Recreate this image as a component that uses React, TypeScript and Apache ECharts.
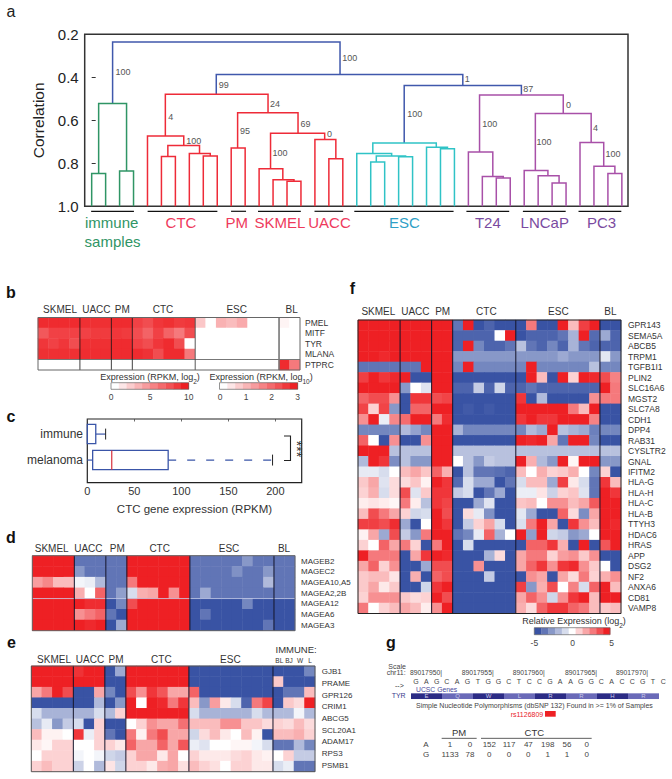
import React, { useEffect, useRef } from "react";
import * as echarts from "echarts";

const FONT = '"Liberation Sans", Arial, sans-serif';

// ---------- panel a ----------
const corrTicks = [0.2, 1.0];
const leafCount = 39;
// x1, bottom1, x2, bottom2, height, colour index
const merges: number[][] = [
  [1.5, 0.522, 17.8, 0.387, 0.236, 0],
  [8.93, 0.479, 26.6, 0.438, 0.387, 0],
  [22.4, 0.706, 30.8, 0.482, 0.438, 0],
  [0.5, 0.848, 2.5, 0.836, 0.522, 1],
  [0, 1, 1, 1, 0.848, 1],
  [2, 1, 3, 1, 0.836, 1],
  [5.28, 0.673, 12.64, 0.565, 0.479, 2],
  [4, 1, 6.6, 0.717, 0.673, 2],
  [5.46, 0.768, 7.73, 0.754, 0.717, 2],
  [5, 1, 6, 1, 0.768, 2],
  [7, 1, 8.5, 0.766, 0.754, 2],
  [8, 1, 9, 1, 0.766, 2],
  [10.46, 0.729, 14.79, 0.66, 0.565, 2],
  [10, 1, 11, 1, 0.729, 2],
  [12.82, 0.825, 16.7, 0.689, 0.66, 2],
  [12, 1, 13.7, 0.876, 0.825, 2],
  [13, 1, 14.5, 0.884, 0.876, 2],
  [14, 1, 15, 1, 0.884, 2],
  [16, 1, 17.5, 0.779, 0.689, 2],
  [17, 1, 18, 1, 0.779, 2],
  [20.15, 0.754, 24.7, 0.725, 0.706, 3],
  [19, 1, 21.5, 0.766, 0.754, 3],
  [20.4, 0.794, 22.5, 0.769, 0.766, 3],
  [20, 1, 21, 1, 0.794, 3],
  [22, 1, 23, 1, 0.769, 3],
  [24, 1, 25.5, 0.732, 0.725, 3],
  [25, 1, 26, 1, 0.732, 3],
  [27.8, 0.748, 33.8, 0.568, 0.482, 4],
  [27, 1, 28.75, 0.861, 0.748, 4],
  [28, 1, 29.5, 0.868, 0.861, 4],
  [29, 1, 30, 1, 0.868, 4],
  [31.8, 0.834, 35.8, 0.703, 0.568, 4],
  [31, 1, 32.7, 0.858, 0.834, 4],
  [32, 1, 33.5, 0.892, 0.858, 4],
  [33, 1, 34, 1, 0.892, 4],
  [35, 1, 36.7, 0.814, 0.703, 4],
  [36, 1, 37.5, 0.847, 0.814, 4],
  [37, 1, 38, 1, 0.847, 4],
];
const treeColors = ["#4058ac", "#2f9565", "#ee2b38", "#2fc3c6", "#a850a8"];
const supportLabels: [string, number, number][] = [
  ["100", 270, 215], ["100", 800, 175], ["99", 511, 255], ["24", 631, 311], ["4", 393, 351],
  ["100", 435, 423], ["95", 561, 393], ["69", 702, 372], ["0", 764, 401], ["100", 637, 460],
  ["100", 952, 343], ["1", 1086, 238], ["87", 1223, 268], ["100", 1127, 371], ["0", 1323, 315],
  ["100", 1254, 426], ["4", 1386, 383], ["100", 1415, 463],
];
const treeBars = [[213, 313], [345, 508], [540, 575], [603, 703], [735, 802], [828, 1060], [1090, 1190], [1222, 1322], [1352, 1452]];
const treeGroupLabels: [string, number, number, string][] = [
  ["immune", 261, 668, "#2f9565"], ["samples", 263, 725, "#2f9565"],
  ["CTC", 423, 668, "#ee3a5c"], ["PM", 553, 668, "#ee3a5c"], ["SKMEL", 654, 668, "#ee3a5c"], ["UACC", 770, 668, "#ee3a5c"],
  ["ESC", 945, 668, "#2f9fc6"], ["T24", 1140, 668, "#7a4aa0"], ["LNCaP", 1273, 668, "#7a4aa0"], ["PC3", 1406, 668, "#7a4aa0"],
];

// ---------- panel b ----------
const bGenes = ["PMEL", "MITF", "TYR", "MLANA", "PTPRC"];
const bValues: number[][] = [
  [9.5,9.5,9.5,9.5, 9.3,9.3,9.3, 9.5,9.5, 8.5,8,9,9.3,8.8,9, 2.5,0,3.5,3,3.8,0,0,0, 0.5,0],
  [7.5,8.5,8.5,8.5, 8.5,8.8,8.8, 9,8.8, 8,7,8.5,7,6,8, 0,0,0,0,0,0,0,0, 0,0],
  [9,8.5,9,8, 9.3,9.3,9.3, 9.5,9.5, 8.5,8,9,9.5,8,0, 0,0,0,0,0,0,0,0, 0,0],
  [9.3,9.3,9.3,9.3, 9.4,9.4,9.4, 9.5,9.5, 9.5,9.2,8,9.5,9.5,6, 0,0,0,0,0,0,0,0, 0,0],
  [0,0,0,0, 0,0,0, 0,0, 0,0,0,0,0,0, 0,0,0,0,0,0,0,0, 9.5,6],
];

// ---------- panel c ----------
const boxNames = ["immune", "melanoma"];
// row, min, q1, median, q3, max
const boxStats = [
  [1, 0, 0, 0.4, 9, 19.5],
  [2, 0, 5.7, 26, 86, 197],
];

// ---------- panel d ----------
const dGenes = ["MAGEB2", "MAGEC2", "MAGEA10,A5", "MAGEA2,2B", "MAGEA12", "MAGEA6", "MAGEA3"];
const dValues: number[][] = [
  [5,5,5,5, -4,-4,-4, -4,-4, 5,5,5,5,5,5, -4,-4,-4,-4,-4,-3,-4,-4, -4,-4],
  [5,5,5,5, -3,-4,-4, -4,-4, 5,5,5,5,5,5, -4,-4,-4,-4,-3.2,-4,-4,-3, -4,-4],
  [2.2,2.7,1.5,1.5, -0.3,-0.5,-2, -4,-4, 3,5,5,5,5,5, -4,-4,-4,-4,-4,-4,-4,-2, -4,-4],
  [5,5,5,5, 1.8,0,3.5, -4,-2.8, -1,1.8,2,5,2.5,5, -4,-2.5,-4,-4,-4,-4,-4,-4, -4,-4],
  [5,5,5,5, 5,4.7,4.7, -5,-3.5, 4,5,5,5,5,5, -5,-5,-5,-5,-5,-3.5,-5,-5, -5,-5],
  [5,5,5,5, 2.5,3,3.5, -4,-5, 5,5,5,5,5,5, -5,-4,-5,-5,-5,-5,-5,-5, -5,-5],
  [5,5,5,5, 5,4.8,5, -5,-2.5, 5,5,5,5,5,5, -5,-5,-5,-5,-5,-5,-5,-4, -5,-5],
];

// ---------- panel e ----------
const eGenes = ["GJB1", "PRAME", "GPR126", "CRIM1", "ABCG5", "SCL20A1", "ADAM17", "RPS3", "PSMB1"];
const eRowIds = ["r1", "r2", "r3", "r4", "r5", "r6", "r7", "r8", "r9", "r10"];
const eValues: number[][] = [
  [5,5,5,5, 4.6,5,5, -5,-2.5, 5,5,5,5,5,5, -5,-5,-5,-5,-5,-5,-5,-5, -5,-5,-5,-3.5],
  [5,5,5,5, 5,5,5, -5,-5, 5,5,5,5,5,5, -5,-5,-5,-5,-5,-5,-5,-5, 1.2,-5,-5,-5],
  [2,3,5,4, -5,-5,2, -3.5,-5, 4,2.5,4.5,3.8,2,2, 3.5,-5,-5,-5,-5,-5,-5,-5, -5,-4,-4,1.5],
  [-5,-5,-5,-5, -5,-5,-2, -5,-3, 5,0,5,4.8,3,4.5, 1.5,-3,2.2,0.5,-1,-4.5,3,4.2, -5,1.2,0.8,5],
  [-1,-2.2,-2.2,-2.2, -2.2,-2.2,-1, -2,1, 5,5,5,5,5,5, -1,-2.2,-2.2,-2.2,-2.2,-2.2,-1,-2, -2,-2,-0.3,-2],
  [-1.8,-0.6,-3,-1.5, -1,-5,1, -5,-5, 0,1,2.5,2,2,3.2, 1.5,1.5,1.5,2.5,2.5,1.3,1.3,0.8, 1,0.8,1.5,0.8],
  [1.5,0.3,0.3,0, 4.5,-0.5,1, -4,-5, 3,0.3,3,4,2,2, -1.2,0.8,1.5,0.5,0,1.5,0.3,-5, 1.5,1.5,1.8,1],
  [0.5,0.2,1,1, 0,0,1, 1,0.5, 3.5,2,2,3.5,2,3.8, -0.5,-0.8,0,0,0.2,0.2,-0.3,-1, -4,-4,-2,-3.5],
  [0,1,1,1, -0.3,0,-0.3, -1.2,-1.5, 1,2,2,0.5,2,0, 1,0.5,0.5,0.5,0.8,1,0.5,0.3, 0,1,-1.5,-1.5],
  [1,1.5,1,1, -1.3,0,-2, 0.6,-1.2, 1,1,0.5,1.8,2,0.7, 1.5,1,0.7,0,1,1,0.5,0.5, -1,-0.5,-4,-4],
];

// ---------- panel f ----------
const fGenes = ["GPR143","SEMA5A","ABCB5","TRPM1","TGFB1I1","PLIN2","SLC16A6","MGST2","SLC7A8","CDH1","DPP4","RAB31","CYSLTR2","GNAL","IFITM2","HLA-G","HLA-H","HLA-C","HLA-B","TTYH3","HDAC6","HRAS","APP","DSG2","NF2","ANXA6","CD81","VAMP8"];
const fValues: number[][] = [
  [5,5,5,5, 5,5,5, 5,5, -4,5,-5,-4.5,-5,-5, -5,3,-5,-5,5,1.5,4.3,5, -5,-5],
  [5,5,5,5, 5,5,5, 5,5, -4.5,-4.5,-4.5,-4.5,0,5, -5,-4.5,-4.5,-4.5,-4,-2.2,5,-4.3, -2.5,-4.5],
  [5,5,5,5, 5,5,5, 5,5, -4.5,5,-3.5,-4.5,-4.5,-4, -1.8,-4,-4.5,-3.5,-4.5,-2.2,-4,-4.5, -4.5,-4.5],
  [5,5,4.8,5, 5,5,5, 5,5, -3,-3,-3,-3,-3,-3, -3,-3,-3,-3,-2.5,-3,-3,-3, -0.7,-3],
  [-4,-4,-4,-4, -4,-4,5, 5,5, -3.5,5,-3.5,-3.5,-3.5,-3.5, -3.5,5,-3.5,-3.5,-3.5,-3.5,-3.5,-1.8, -3.5,-3.5],
  [4.3,5,4.5,4.8, 5,-5,-5, 5,5, -5,-5,-5,-5,-5,-5, -5,5,1.5,-5,5,1,5,4.8, 4,2.8],
  [5,5,5,5, -3,0,-0.8, 5,5, -4.5,-4.5,-1.5,-4.5,-1.2,-4.5, -4.5,-4,-4.5,-4.5,-4.5,-4.5,-4.5,-4.5, 5,3],
  [3.5,4,4,2.5, -5,4.5,4.5, 4,4.2, -5,-5,-5,-5,-5,-5, 4.5,-5,-2,-5,-5,-5,-5,2.5, 3,3],
  [4.2,1,4.2,-3, -5,3.5,3.5, 5,5, -5,-4.8,-5,-4.8,-5,-5, 5,5,5,5,5,3,1.5,5, -5,-5],
  [2.5,5,-0.5,2.7, 3.3,5,5, 3,4.7, -5,-5,-5,-5,-5,-5, 4.5,5,4.5,4.5,5,5,5,2.8, -5,-5],
  [-3.5,-3.5,-3.5,-3.5, -2,-2.7,-3.5, 5,5, -2.2,-3.5,-3.5,-3.5,-3.5,-3.5, -3.5,-2,-2.5,5,-1.8,-2.2,-2.5,-3.7, -3.5,-3.5],
  [3.5,0,-5,2.5, -5,-5,2.5, 5,5, -5,-5,-5,-5,-5,-5, 5,4.8,5,2,-4,5,5,-3.5, -5,-5],
  [5,5,5,-1.8, -1.8,-1.8,-1.8, 5,5, -1.8,-1.8,-1.8,-1.8,-1.8,-1.8, -1.8,-1.8,-1.8,-1.8,-1.8,-1.8,-1.8,-1.8, -1.8,-1.8],
  [-2,5,4.5,-3.3, -1.8,-3,-3, 5,5, 0,-1.8,-3,-1.5,-1.8,-1.8, 5,1.8,-2,-3,5,0.2,5,5, -3,-3],
  [-0.6,-0.6,-1,0, 1.5,2,1.3, 3.5,1.8, -5,-1.8,-4,-4,-4.2,-4.5, 1.5,0,1.8,1,1.2,1.8,0,-3.5, 1,-5],
  [1.2,2,-0.8,0.8, 0.8,1.3,0.3, 5,4.5, -4.3,-1,-2.5,-2.5,-5,-4, -1,1.5,1.5,-2.5,4.3,0.5,-1,-4, 4.5,1.5],
  [1,1.8,-1,0.8, 4,-0.8,1.2, 4.5,4.5, -1.5,-1,-5,-4,-2.5,-5, -0.5,-0.5,0.6,-1.3,1,1.3,-0.8,-4, 5,4.5],
  [0.4,0.6,0.4,0.2, 3,0.4,-1.8, 4.5,4.2, -5,-5,-2.5,-0.8,-5,-5, 1.3,1.5,0,2.5,2.5,1.5,2,3.7, 5,5],
  [1.5,4,3,2, 1,-1.2,-1, 5,4, -5,0.8,-0.6,-3.2,-5,-5, -0.7,-2.5,-5,-5,3.5,0.8,-3.3,2, 5,5],
  [4.3,4.3,4,4.7, -2.5,-5,0, 5,4.5, -5,-1.5,1,2,-1,-5, -0.9,3,5,2,-5,4.5,2.5,1.5, 5,4.8],
  [0.3,2,-2.5,4, -1.5,-3,3, 5,5, -4,-3.5,-0.6,3.5,-2.2,0, 5,-2.8,5,-1.2,-1.5,-3,-2.5,0, 5,5],
  [1,0,3.5,2, 3,1,-5, 3,5, -5,-1,-5,-5,-5,-5, -5,3.5,3.5,4.5,1.8,-5,5,-5, 3.8,5],
  [5,3,3,3, -5,2,4.5, 5,4.8, -5,-5,-5,-2.2,0.8,-5, 2,3,3,1,2.2,2.5,1.2,2.5, -5,-5],
  [2,3.5,1,2.5, -5,-5,-2.5, 4,4, -5,-5,2.5,-5,-5,-5, 2,3.5,4.5,2.5,4.5,4.8,2.5,1.2, 0,-5],
  [1.2,1.5,1.5,0.6, -5,1.8,-5, 3.5,4, -5,-5,-5,-1.5,-5,-5, -5,2.5,2,-5,2,0.8,3,1, 1.8,2.5],
  [1.2,2,0.5,1.2, -5,-5,-1.2, 4.5,5, -5,-5,-5,-5,-5,-5, 4.3,-3,1.8,4,0,2.8,-1,3.5, 5,1.5],
  [1,2.5,2.5,2.5, 1.2,0.8,1, 5,4, -5,-5,-5,-5,-5,-5, 2,3.5,2.5,-1.2,2.5,4.5,5,1.5, 5,5],
  [3,0,1,1.5, 2,1.5,0.4, 2.5,5, -5,-5,-5,-5,-5,-5, 1.8,0.8,3.5,4.5,4.5,3.5,3,1.5, 1.2,1.5],
];

// ---------- panel g ----------
const sequence = "GAGCAGTGGCTCCGAAGGCACCGTC".split("");
const coords = [["89017950", 90], ["89017955", 245], ["89017960", 398], ["89017965", 555], ["89017970", 708]] as [string, number][];
const aminoAcids = ["E", "Q", "W", "L", "R", "R", "H", "R"];
const tableHeads: [string, number][] = [["PM", 237], ["CTC", 463]];
const tableX = [210, 270, 328, 387, 445, 503, 561, 620];
const alleleA = ["1", "0", "152", "117", "47", "198", "56", "0"];
const alleleG = ["1133", "78", "0", "0", "0", "1", "1", "0"];

// ---------- helpers ----------
const BLUE = [57, 83, 164];
const WHITE = [255, 255, 255];
const RED = [238, 32, 36];
const mix = (a: number[], b: number[], t: number) =>
  `rgb(${a.map((v, i) => Math.round(v + (b[i] - v) * t)).join(",")})`;
const divColor = (t: number) => (t < 0.5 ? mix(BLUE, WHITE, t * 2) : mix(WHITE, RED, (t - 0.5) * 2));

function txt(text: string, x: number, y: number, size: number, o: any = {}) {
  return {
    type: "text", x, y, rotation: o.rotation || 0, silent: true, z: 20,
    style: {
      text, fill: o.fill || "#2a2a2a", fontSize: size, fontFamily: FONT, fontWeight: o.weight || "normal",
      align: o.align || "center", textAlign: o.align || "center",
      verticalAlign: "middle", textVerticalAlign: "middle", rich: o.rich,
    },
  };
}
const subTitle = (text: string, x: number, y: number, size: number) =>
  txt(text, x, y, size, {
    rich: {
      n: { fontSize: size, fontFamily: FONT, fill: "#333", lineHeight: 16, verticalAlign: "middle" },
      s: { fontSize: size - 2.5, fontFamily: FONT, fill: "#333", lineHeight: 16, verticalAlign: "bottom" },
    },
  });

function colorBar(x0: number, x1: number, y0: number, y1: number, steps: number, color: (t: number) => string) {
  const w = (x1 - x0) / steps;
  const out: any[] = [];
  for (let i = 0; i < steps; i++) {
    out.push({
      type: "rect", silent: true, z: 20,
      shape: { x: x0 + i * w, y: y0, width: w + 0.3, height: y1 - y0 },
      style: { fill: color(i / (steps - 1)) },
    });
  }
  out.push({
    type: "rect", silent: true, z: 21,
    shape: { x: x0, y: y0, width: x1 - x0, height: y1 - y0 },
    style: { fill: "none", stroke: "#666", lineWidth: 0.7 },
  });
  return out;
}

type Heat = {
  rect: [number, number, number, number];
  rows: number[][];
  names: string[];
  showNames: boolean;
  range: [number, number];
  groups: number[];
  frame: string;
  labelSize?: number;
  labelGap?: number;
  thick?: Record<number, [string, number]>;
  hLines?: [number, string, number][];
};

function buildHeat(h: Heat, idx: number, opt: any) {
  const [left, top, width, height] = h.rect;
  const cols = h.rows[0].length;
  opt.grid.push({ left, top, width, height, show: false });
  const gi = opt.grid.length - 1;
  opt.xAxis.push({
    type: "category", gridIndex: gi, data: h.rows[0].map((_, i) => String(i)), show: false,
  });
  opt.yAxis.push({
    type: "category", gridIndex: gi, data: h.names, inverse: true, position: "right",
    axisLine: { show: false }, axisTick: { show: false }, splitLine: { show: false },
    axisLabel: {
      show: h.showNames, interval: 0, fontSize: h.labelSize || 8.5, fontFamily: FONT, color: "#333",
      margin: h.labelGap ?? 5,
    },
  });
  const xi = opt.xAxis.length - 1;
  const yi = opt.yAxis.length - 1;
  const cells: number[][] = [];
  h.rows.forEach((r, ry) => r.forEach((v, cx) => cells.push([cx, ry, v])));
  opt.series.push({
    type: "heatmap", name: "heat" + idx, xAxisIndex: xi, yAxisIndex: yi, data: cells, silent: true,
    progressive: 0, emphasis: { disabled: true }, itemStyle: { borderWidth: 0 },
  });
  const si = opt.series.length - 1;
  const isRed = h.range[0] === 0;
  opt.visualMap.push({
    show: false, type: "continuous", seriesIndex: si, min: h.range[0], max: h.range[1], dimension: 2,
    inRange: { color: isRed ? ["#ffffff", "#ee2024"] : ["#3953a4", "#ffffff", "#ee2024"] },
  });
  const bounds: number[] = [];
  h.groups.slice(0, -1).reduce((acc, g) => { bounds.push(acc + g); return acc + g; }, 0);
  opt.series.push({
    type: "custom", name: "frame" + idx, xAxisIndex: xi, yAxisIndex: yi, coordinateSystem: "cartesian2d",
    data: [[0, 0]], clip: false, silent: true, z: 6,
    renderItem: (params: any, api: any) => {
      const cs = params.coordSys;
      const children: any[] = [];
      const bandH = cs.height / h.rows.length;
      (h.hLines || []).forEach(([k, c, w]) => {
        const y = cs.y + bandH * k;
        children.push({ type: "line", shape: { x1: cs.x, y1: y, x2: cs.x + cs.width, y2: y }, style: { stroke: c, lineWidth: w } });
      });
      bounds.forEach((b) => {
        const x = (api.coord([b - 1, 0])[0] + api.coord([b, 0])[0]) / 2;
        const [c, w] = (h.thick && h.thick[b]) || ["#15152a", 1];
        children.push({ type: "line", shape: { x1: x, y1: cs.y, x2: x, y2: cs.y + cs.height }, style: { stroke: c, lineWidth: w } });
      });
      children.push({ type: "rect", shape: { x: cs.x, y: cs.y, width: cs.width, height: cs.height }, style: { fill: "none", stroke: h.frame, lineWidth: 1 } });
      return { type: "group", children };
    },
  });
  return cols;
}

export default function App() {
  const ref = useRef<HTMLDivElement>(null);
  useEffect(() => {
    const chart = echarts.init(ref.current!, undefined, { renderer: "svg" });
    const Z = 2.337;
    const ZY = 3;
    const opt: any = { animation: false, backgroundColor: "#fff", grid: [], xAxis: [], yAxis: [], series: [], visualMap: [], graphic: { elements: [] } };
    const G: any[] = opt.graphic.elements;

    // ----- a: dendrogram -----
    opt.grid.push({ left: 84.7, top: 34.3, width: 543.3, height: 172, show: true, borderColor: "#333", borderWidth: 1.5, backgroundColor: "transparent" });
    opt.xAxis.push({ type: "value", gridIndex: 0, min: -0.5, max: leafCount - 0.56, show: false });
    opt.yAxis.push({
      type: "value", gridIndex: 0, inverse: true, min: corrTicks[0], max: corrTicks[1], interval: 0.2,
      name: "Correlation", nameLocation: "middle", nameGap: 34, nameRotate: 90,
      nameTextStyle: { fontSize: 15.5, fontFamily: FONT, color: "#222" },
      axisLine: { show: false }, splitLine: { show: false },
      axisTick: { show: true, inside: true, length: 4, lineStyle: { color: "#333", width: 1 } },
      axisLabel: { fontSize: 15, fontFamily: FONT, color: "#222", margin: 6, formatter: (v: number) => v.toFixed(1) },
    });
    opt.series.push({
      type: "custom", name: "dendrogram", coordinateSystem: "cartesian2d", xAxisIndex: 0, yAxisIndex: 0,
      data: merges, silent: true, z: 5,
      renderItem: (_: any, api: any) => {
        const x1 = api.value(0), b1 = api.value(1), x2 = api.value(2), b2 = api.value(3), h = api.value(4);
        const pts = [[x1, b1], [x1, h], [x2, h], [x2, b2]].map((p) => api.coord(p));
        return { type: "polyline", shape: { points: pts }, style: { stroke: treeColors[api.value(5)], lineWidth: 1.5, fill: "none" } };
      },
    });
    G.push(txt("a", 11, 11, 16, { fill: "#222" }));
    supportLabels.forEach(([t, x, y]) => G.push(txt(t, x / Z, y / ZY, 9, { align: "left", fill: "#555" })));
    treeBars.forEach(([a, b]) => G.push({ type: "line", silent: true, z: 20, shape: { x1: a / Z, y1: 211.3, x2: b / Z, y2: 211.3 }, style: { stroke: "#111", lineWidth: 1.2 } }));
    treeGroupLabels.forEach(([t, x, y, c]) => G.push(txt(t, x / Z, y / ZY, 15, { fill: c })));

    // ----- b -----
    const groups25 = [4, 3, 2, 6, 8, 2];
    buildHeat({ rect: [38, 317.5, 262, 52.5], rows: bValues, names: bGenes, showNames: true, range: [0, 10], groups: groups25, frame: "#666", labelSize: 8.5, labelGap: 5, thick: { 23: ["#777", 1.6], 4: ["#111", 0.8], 7: ["#111", 0.8], 9: ["#111", 0.8], 15: ["#444", 0.9] }, hLines: [[4, "#777", 1]] }, 0, opt);
    G.push(txt("b", 11, 292, 16, { weight: "bold", fill: "#111" }));
    ([["SKMEL", 180], ["UACC", 289], ["PM", 367], ["CTC", 489], ["ESC", 710], ["BL", 875]] as [string, number][]).forEach(([t, x]) => G.push(txt(t, x / 3, 309.7, 10, { fill: "#333" })));
    G.push(subTitle("{n|Expression (RPKM, log}{s|2}{n|)}", 150, 377, 9));
    G.push(subTitle("{n|Expression (RPKM, log}{s|10}{n|)}", 261, 377, 9));
    G.push(...colorBar(111, 188.7, 382.7, 389.3, 10, (t) => mix(WHITE, RED, t)));
    G.push(...colorBar(219.5, 297.7, 382.7, 389.3, 10, (t) => mix(WHITE, RED, t)));
    ([["0", 333], ["5", 450], ["10", 566], ["0", 660], ["1", 738], ["2", 815], ["3", 893]] as [string, number][]).forEach(([t, x]) => G.push(txt(t, x / 3, 397, 8.5, { fill: "#444" })));

    // ----- c -----
    opt.grid.push({ left: 87.3, top: 419, width: 214.4, height: 63.7, show: true, borderColor: "#222", borderWidth: 1.2, backgroundColor: "transparent" });
    const cg = opt.grid.length - 1;
    opt.xAxis.push({
      type: "value", gridIndex: cg, min: 0, max: 228, interval: 50,
      name: "CTC gene expression (RPKM)", nameLocation: "middle", nameGap: 20,
      nameTextStyle: { fontSize: 11.5, fontFamily: FONT, color: "#333" },
      axisLine: { show: false }, axisTick: { show: false }, splitLine: { show: false },
      axisLabel: { fontSize: 11, fontFamily: FONT, color: "#333", margin: 3, showMaxLabel: false },
    });
    const cx = opt.xAxis.length - 1;
    opt.xAxis.push({
      type: "value", gridIndex: cg, position: "top", min: 0, max: 228, interval: 50,
      axisLine: { show: false }, splitLine: { show: false }, axisLabel: { show: false },
      axisTick: { show: true, inside: true, length: 2.5, lineStyle: { color: "#444", width: 0.8 } },
    });
    opt.yAxis.push({ type: "value", gridIndex: cg, inverse: true, min: 0.42, max: 2.87, show: false });
    const cy = opt.yAxis.length - 1;
    opt.series.push({
      type: "custom", name: "box", coordinateSystem: "cartesian2d", xAxisIndex: cx, yAxisIndex: cy, data: boxStats, silent: true, z: 5,
      renderItem: (_: any, api: any) => {
        const r = api.value(0), mn = api.value(1), q1 = api.value(2), md = api.value(3), q3 = api.value(4), mx = api.value(5);
        const bandH = api.size([0, 1])[1];
        const hh = bandH * 0.37, cap = bandH * 0.21;
        const c = (v: number) => api.coord([v, r]);
        const y = c(0)[1];
        const B = "#3a55a8";
        const dashed = r === 2;
        return {
          type: "group",
          children: [
            { type: "line", shape: { x1: c(mn)[0], y1: y, x2: c(q1)[0], y2: y }, style: { stroke: B, lineWidth: 1.2 } },
            { type: "line", shape: { x1: c(q3)[0], y1: y, x2: c(mx)[0], y2: y }, style: { stroke: B, lineWidth: 1.2, lineDash: dashed ? [8, 11] : null } },
            { type: "rect", shape: { x: c(q1)[0], y: y - hh, width: c(q3)[0] - c(q1)[0], height: hh * 2 }, style: { fill: "none", stroke: B, lineWidth: 1.3 } },
            { type: "line", shape: { x1: c(md)[0], y1: y - hh, x2: c(md)[0], y2: y + hh }, style: { stroke: r === 2 ? "#d62f3c" : "none", lineWidth: 1.2 } },
            { type: "line", shape: { x1: c(mx)[0], y1: y - cap, x2: c(mx)[0], y2: y + cap }, style: { stroke: "#222", lineWidth: 1 } },
          ],
        };
      },
    });
    G.push(txt("c", 11, 416, 16, { weight: "bold", fill: "#111" }));
    G.push(txt(boxNames[0], 83, 434, 12, { align: "right", fill: "#333" }));
    G.push(txt(boxNames[1], 83, 460, 12, { align: "right", fill: "#333" }));
    G.push({ type: "polyline", silent: true, z: 20, shape: { points: [[284, 436], [290.5, 436], [290.5, 460.5], [284, 460.5]] }, style: { stroke: "#222", lineWidth: 1.1, fill: "none" } });
    G.push(txt("***", 297, 449, 14, { rotation: -Math.PI / 2, fill: "#333" }));

    // ----- d -----
    buildHeat({ rect: [32.3, 555.7, 262.7, 75], rows: dValues, names: dGenes, showNames: true, range: [-5, 5], groups: groups25, frame: "#666", labelSize: 8, labelGap: 6, hLines: [[4, "#c8cde8", 0.8]] }, 1, opt);
    G.push(txt("d", 11, 537.7, 16, { weight: "bold", fill: "#111" }));
    ([["SKMEL", 155], ["UACC", 265], ["PM", 352], ["CTC", 479], ["ESC", 687], ["BL", 852]] as [string, number][]).forEach(([t, x]) => G.push(txt(t, x / 3, 548.3, 10, { fill: "#333" })));

    // ----- e -----
    buildHeat({ rect: [31.3, 666, 283.7, 105.7], rows: eValues, names: eRowIds, showNames: false, range: [-5, 5], groups: [4, 3, 2, 6, 8, 4], frame: "#555" }, 2, opt);
    G.push(txt("e", 11.5, 642.7, 16, { weight: "bold", fill: "#111" }));
    ([["SKMEL", 162], ["UACC", 270], ["PM", 348], ["CTC", 484], ["ESC", 691]] as [string, number][]).forEach(([t, x]) => G.push(txt(t, x / 3, 659.3, 10, { fill: "#333" })));
    G.push(txt("IMMUNE:", 275.5, 649.3, 9.5, { align: "left", fill: "#333" }));
    ([["BL", 838], ["BJ", 867], ["W", 900], ["L", 930]] as [string, number][]).forEach(([t, x]) => G.push(txt(t, x / 3, 660.7, 6.5, { fill: "#333" })));
    eGenes.forEach((g, i) => G.push(txt(g, 321.7, 671.7 + i * 11.68, 8, { align: "left", fill: "#333" })));

    // ----- f -----
    buildHeat({ rect: [358, 320, 263, 293.5], rows: fValues, names: fGenes, showNames: true, range: [-5, 5], groups: groups25, frame: "#222", labelSize: 8.5, labelGap: 7 }, 3, opt);
    G.push(txt("f", 352.5, 288, 16, { weight: "bold", fill: "#111" }));
    ([["SKMEL", 85], ["UACC", 196], ["PM", 278], ["CTC", 409], ["ESC", 625], ["BL", 781]] as [string, number][]).forEach(([t, x]) => G.push(txt(t, 350 + x / 3, 311.7, 10, { fill: "#333" })));
    G.push(subTitle("{n|Relative Expression (log}{s|2}{n|)}", 574, 621, 9));
    G.push(...colorBar(534.3, 610, 627.7, 634.7, 11, divColor));
    ([["-5", 463], ["0", 578], ["5", 695]] as [string, number][]).forEach(([t, x]) => G.push(txt(t, 380 + x / 3, 642.5, 8.5, { fill: "#444" })));

    // ----- g -----
    const gx = (v: number) => 380 + v / 3;
    const gy = (v: number) => 560 + v / 3;
    G.push(txt("g", gx(33), gy(247), 16, { weight: "bold", fill: "#111" }));
    G.push(txt("Scale", gx(25), gy(318), 7, { align: "left", fill: "#444" }));
    G.push(txt("chr11:", gx(20), gy(338), 7, { align: "left", fill: "#444" }));
    coords.forEach(([t, x]) => G.push(txt(t + "|", gx(x), gy(338), 6.8, { align: "left", fill: "#444" })));
    G.push(txt("-->", gx(45), gy(375), 7, { align: "left", fill: "#333" }));
    sequence.forEach((c, i) => G.push(txt(c, gx(108 + i * 30.9), gy(363), 7, { fill: "#444" })));
    G.push(txt("UCSC Genes", gx(108), gy(387), 6.8, { align: "left", fill: "#4a4a9c" }));
    G.push(txt("TYR", gx(35), gy(407), 7, { align: "left", fill: "#3a3a8c" }));
    aminoAcids.forEach((a, i) => {
      const x0 = gx(93 + i * 93);
      G.push({ type: "rect", silent: true, z: 20, shape: { x: x0, y: gy(400), width: 31, height: 5.7 }, style: { fill: i % 2 === 0 ? "#2b2b85" : "#6a6ab8" } });
      G.push(txt(a, x0 + 15.5, gy(408.5), 6, { fill: "#c8c8e8" }));
    });
    G.push(txt("Simple Nucleotide Polymorphisms (dbSNP 132) Found in >= 1% of Samples", gx(108), gy(436), 7, { align: "left", fill: "#444" }));
    G.push(txt("rs1126809", gx(392), gy(463), 7, { align: "left", fill: "#e8202a" }));
    G.push({ type: "rect", silent: true, z: 20, shape: { x: gx(495), y: gy(453), width: 10.7, height: 5.7 }, style: { fill: "#ee2024" } });
    tableHeads.forEach(([t, x]) => G.push(txt(t, gx(x), gy(518), 9.5, { fill: "#333" })));
    [[185, 290], [303, 635]].forEach(([a, b]) => G.push({ type: "line", silent: true, z: 20, shape: { x1: gx(a), y1: gy(535), x2: gx(b), y2: gy(535) }, style: { stroke: "#333", lineWidth: 0.8 } }));
    G.push(txt("A", gx(138), gy(553), 8, { fill: "#444" }));
    G.push(txt("G", gx(138), gy(582), 8, { fill: "#444" }));
    tableX.forEach((x, i) => {
      G.push(txt(alleleA[i], gx(x), gy(553), 8, { fill: "#444" }));
      G.push(txt(alleleG[i], gx(x), gy(582), 8, { fill: "#444" }));
    });

    chart.setOption(opt);
    return () => chart.dispose();
  }, []);
  return <div ref={ref} style={{ position: "absolute", left: 0, top: 0, width: 672, height: 779 }} />;
}
